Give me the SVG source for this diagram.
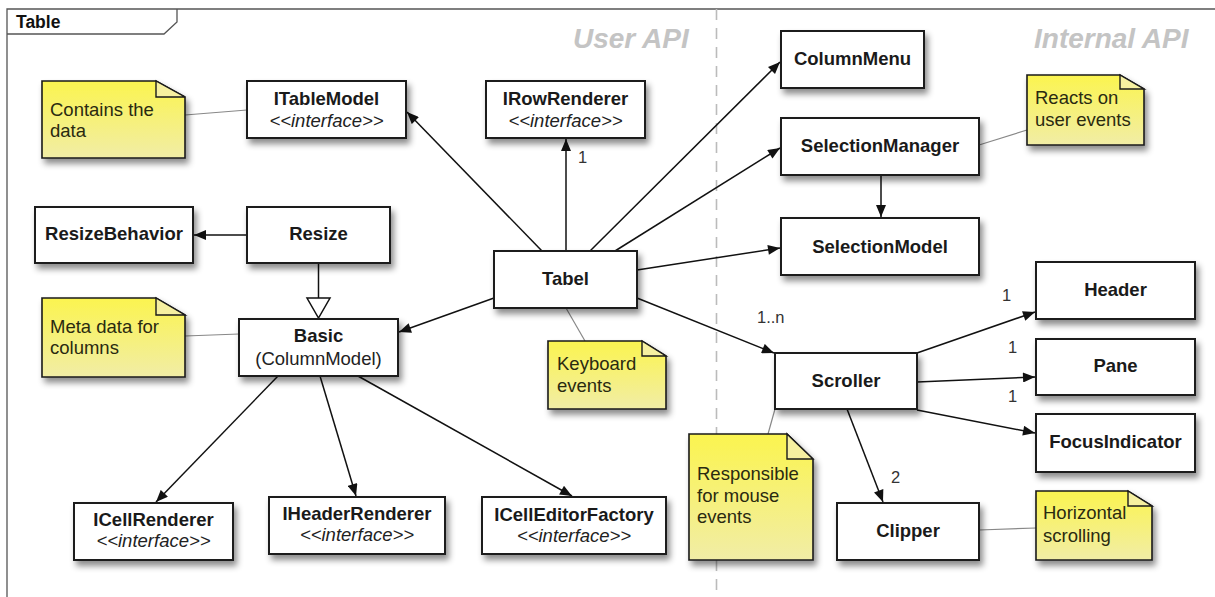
<svg xmlns="http://www.w3.org/2000/svg" width="1215" height="597" viewBox="0 0 1215 597">
<defs>
<filter id="sh" x="-20%" y="-20%" width="150%" height="160%">
<feDropShadow dx="3" dy="5" stdDeviation="3" flood-color="#000" flood-opacity="0.45"/>
</filter>
<linearGradient id="ng" x1="0" y1="0" x2="0" y2="1">
<stop offset="0" stop-color="#fbf44f"/>
<stop offset="1" stop-color="#f1eda6"/>
</linearGradient>
<marker id="ah" viewBox="0 0 12 10" refX="12" refY="5" markerWidth="13" markerHeight="10" markerUnits="userSpaceOnUse" orient="auto">
<path d="M0,0 L12,5 L0,10 Z" fill="#111"/>
</marker>
</defs>
<style>
.box{fill:#fff;stroke:#1a1a1a;stroke-width:2;filter:url(#sh)}
.note{fill:url(#ng);stroke:#1a1a1a;stroke-width:1.6;filter:url(#sh)}
.fold{fill:#f6f0a0;stroke:#1a1a1a;stroke-width:1.4}
.b{font-family:"Liberation Sans",Arial,sans-serif;font-weight:bold;font-size:18.5px;fill:#1a1a1a;text-anchor:middle}
.i{font-family:"Liberation Sans",Arial,sans-serif;font-style:italic;font-size:18.5px;fill:#222;text-anchor:middle}
.r{font-family:"Liberation Sans",Arial,sans-serif;font-size:18.5px;fill:#222;text-anchor:middle}
.nt{font-family:"Liberation Sans",Arial,sans-serif;font-size:18.5px;fill:#2a2a10}
.m{font-family:"Liberation Sans",Arial,sans-serif;font-size:16.5px;fill:#333}
.api{font-family:"Liberation Sans",Arial,sans-serif;font-weight:bold;font-style:italic;font-size:28px;fill:#c4c4c4}
.arr{stroke:#111;stroke-width:1.5;fill:none;marker-end:url(#ah)}
.att{stroke:#888;stroke-width:1.2;fill:none}
</style>
<rect width="1215" height="597" fill="#fff"/>
<g id="frame">
<path d="M7,597 V9 H1215" fill="none" stroke="#555" stroke-width="1.3"/>
<path d="M7,34 H164 L177,22 V9" fill="none" stroke="#555" stroke-width="1.3"/>
<text x="16" y="28" style="font-family:'Liberation Sans',Arial,sans-serif;font-weight:bold;font-size:17.5px;fill:#111">Table</text>
<line x1="716.5" y1="9" x2="716.5" y2="597" stroke="#bbb" stroke-width="1.6" stroke-dasharray="11,8"/>
<text class="api" x="573" y="48">User API</text>
<text class="api" x="1034" y="48">Internal API</text>
</g>
<g id="connectors">
<line class="att" x1="185" y1="115" x2="247" y2="110"/>
<line class="att" x1="185" y1="336" x2="239" y2="334"/>
<line class="att" x1="566" y1="308" x2="585" y2="341"/>
<line class="att" x1="979" y1="145" x2="1027" y2="130"/>
<line class="att" x1="775" y1="409" x2="768" y2="434"/>
<line class="att" x1="979" y1="530" x2="1036" y2="528"/>
<line class="arr" x1="542" y1="251" x2="407" y2="112"/>
<line class="arr" x1="566" y1="251" x2="566" y2="139"/>
<line class="arr" x1="590" y1="251" x2="780" y2="62"/>
<line class="arr" x1="615" y1="251" x2="780" y2="148"/>
<line class="arr" x1="637" y1="270" x2="780" y2="248"/>
<line class="arr" x1="494" y1="298" x2="399" y2="332"/>
<line class="arr" x1="637" y1="298" x2="774" y2="353"/>
<line class="arr" x1="881" y1="175" x2="881" y2="217"/>
<line class="arr" x1="247" y1="235" x2="194" y2="235"/>
<line x1="318.5" y1="263" x2="318.5" y2="298" stroke="#111" stroke-width="1.5"/>
<polygon points="307,298 330,298 318.5,318" fill="#fff" stroke="#111" stroke-width="1.5"/>
<line class="arr" x1="278" y1="376" x2="156" y2="502"/>
<line class="arr" x1="320" y1="376" x2="356" y2="496"/>
<line class="arr" x1="358" y1="376" x2="572" y2="496"/>
<line class="arr" x1="917" y1="353" x2="1035" y2="312"/>
<line class="arr" x1="917" y1="382" x2="1035" y2="377"/>
<line class="arr" x1="917" y1="410" x2="1035" y2="433"/>
<line class="arr" x1="847" y1="409" x2="883" y2="502"/>
<text class="m" x="578" y="163">1</text>
<text class="m" x="757" y="323">1..n</text>
<text class="m" x="1002" y="301">1</text>
<text class="m" x="1008" y="353">1</text>
<text class="m" x="1008" y="402">1</text>
<text class="m" x="891" y="483">2</text>
</g>
<g id="note-data">
<path class="note" d="M42,81 H156 L185,97 V158 H42 Z"/>
<path class="fold" d="M156,81 V97 H185 Z"/>
<text class="nt" x="50" y="116">Contains the</text>
<text class="nt" x="50" y="137">data</text>
</g>
<g id="note-meta">
<path class="note" d="M42,298 H156 L185,315 V377 H42 Z"/>
<path class="fold" d="M156,298 V315 H185 Z"/>
<text class="nt" x="50" y="333">Meta data for</text>
<text class="nt" x="50" y="354">columns</text>
</g>
<g id="note-keyboard">
<path class="note" d="M548,341 H642 L666,356 V409 H548 Z"/>
<path class="fold" d="M642,341 V356 H666 Z"/>
<text class="nt" x="557" y="370">Keyboard</text>
<text class="nt" x="557" y="392">events</text>
</g>
<g id="note-user">
<path class="note" d="M1027,75 H1120 L1144,89 V145 H1027 Z"/>
<path class="fold" d="M1120,75 V89 H1144 Z"/>
<text class="nt" x="1035" y="104">Reacts on</text>
<text class="nt" x="1035" y="126">user events</text>
</g>
<g id="note-mouse">
<path class="note" d="M689,434 H787 L813,459 V560 H689 Z"/>
<path class="fold" d="M787,434 V459 H813 Z"/>
<text class="nt" x="697" y="480">Responsible</text>
<text class="nt" x="697" y="502">for mouse</text>
<text class="nt" x="697" y="523">events</text>
</g>
<g id="note-horizontal">
<path class="note" d="M1036,491 H1128 L1152,506 V560 H1036 Z"/>
<path class="fold" d="M1128,491 V506 H1152 Z"/>
<text class="nt" x="1043" y="519">Horizontal</text>
<text class="nt" x="1043" y="542">scrolling</text>
</g>
<g id="ITableModel">
<rect class="box" x="247" y="81" width="159" height="57"/>
<text class="b" x="326.5" y="105">ITableModel</text>
<text class="i" x="326.5" y="127">&lt;&lt;interface&gt;&gt;</text>
</g>
<g id="IRowRenderer">
<rect class="box" x="486" y="81" width="159" height="57"/>
<text class="b" x="565.5" y="105">IRowRenderer</text>
<text class="i" x="565.5" y="127">&lt;&lt;interface&gt;&gt;</text>
</g>
<g id="ColumnMenu">
<rect class="box" x="781" y="31" width="143" height="57"/>
<text class="b" x="852.5" y="65">ColumnMenu</text>
</g>
<g id="SelectionManager">
<rect class="box" x="781" y="118" width="198" height="57"/>
<text class="b" x="880" y="152">SelectionManager</text>
</g>
<g id="SelectionModel">
<rect class="box" x="781" y="218" width="198" height="57"/>
<text class="b" x="880" y="253">SelectionModel</text>
</g>
<g id="Header">
<rect class="box" x="1036" y="262" width="159" height="57"/>
<text class="b" x="1115.5" y="296">Header</text>
</g>
<g id="Pane">
<rect class="box" x="1036" y="339" width="159" height="56"/>
<text class="b" x="1115.5" y="372">Pane</text>
</g>
<g id="FocusIndicator">
<rect class="box" x="1036" y="414" width="159" height="58"/>
<text class="b" x="1115.5" y="448">FocusIndicator</text>
</g>
<g id="Scroller">
<rect class="box" x="775" y="353" width="142" height="56"/>
<text class="b" x="846" y="387">Scroller</text>
</g>
<g id="Clipper">
<rect class="box" x="837" y="503" width="142" height="57"/>
<text class="b" x="908" y="537">Clipper</text>
</g>
<g id="Tabel">
<rect class="box" x="494" y="251" width="143" height="57"/>
<text class="b" x="565.5" y="285">Tabel</text>
</g>
<g id="ResizeBehavior">
<rect class="box" x="35" y="207" width="158" height="56"/>
<text class="b" x="114" y="240">ResizeBehavior</text>
</g>
<g id="Resize">
<rect class="box" x="247" y="207" width="143" height="56"/>
<text class="b" x="318.5" y="240">Resize</text>
</g>
<g id="Basic">
<rect class="box" x="239" y="319" width="159" height="57"/>
<text class="b" x="318.5" y="342">Basic</text>
<text class="r" x="318.5" y="365">(ColumnModel)</text>
</g>
<g id="ICellRenderer">
<rect class="box" x="74" y="503" width="159" height="57"/>
<text class="b" x="153.5" y="526">ICellRenderer</text>
<text class="i" x="153.5" y="547">&lt;&lt;interface&gt;&gt;</text>
</g>
<g id="IHeaderRenderer">
<rect class="box" x="269" y="497" width="176" height="57"/>
<text class="b" x="357" y="520">IHeaderRenderer</text>
<text class="i" x="357" y="541">&lt;&lt;interface&gt;&gt;</text>
</g>
<g id="ICellEditorFactory">
<rect class="box" x="482" y="497" width="184" height="57"/>
<text class="b" x="574" y="521">ICellEditorFactory</text>
<text class="i" x="574" y="542">&lt;&lt;interface&gt;&gt;</text>
</g>
</svg>
